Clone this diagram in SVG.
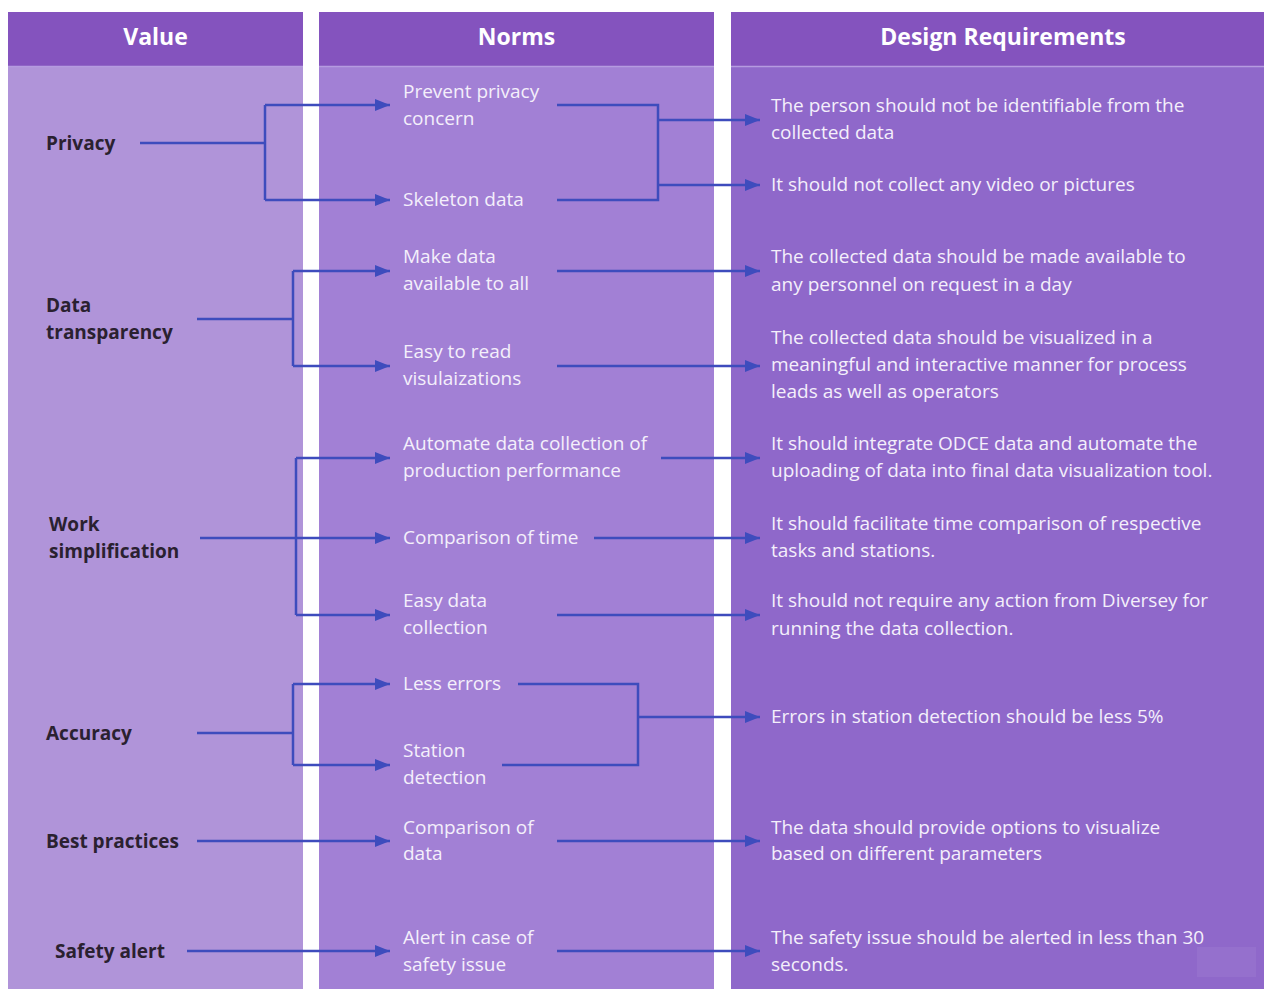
<svg xmlns="http://www.w3.org/2000/svg" width="1264" height="989" viewBox="0 0 1264 989">
  <defs>
    <marker id="arrow" markerUnits="userSpaceOnUse" markerWidth="18" markerHeight="14" refX="15" refY="6" orient="auto">
      <path d="M0,0 L15,6 L0,12 Z" fill="#3e4cbd"/>
    </marker>
    <style>
      .head { fill: #8453be; }
      .hline { stroke: #b59be0; stroke-width: 1.5; }
      .htxt { font-family: "Open Sans", "Liberation Sans", sans-serif; font-weight: 700; font-size: 23px; fill: #ffffff; text-anchor: middle; }
      .val { font-family: "Open Sans", "Liberation Sans", sans-serif; font-weight: 700; font-size: 19px; fill: #2a2130; }
      .txt { font-family: "Open Sans", "Liberation Sans", sans-serif; font-size: 19px; fill: #f4effb; }
      .conn { fill: none; stroke: #3e4cbd; stroke-width: 2.5; }
      .arr { marker-end: url(#arrow); }
    </style>
  </defs>

  <rect width="1264" height="989" fill="#ffffff"/>

  <!-- columns -->
  <g id="col-value">
    <rect x="8" y="12" width="295" height="977" fill="#b094d9"/>
    <rect class="head" x="8" y="12" width="295" height="54"/>
    <line class="hline" x1="8" y1="66.5" x2="303" y2="66.5"/>
    <text class="htxt" x="155.5" y="45">Value</text>
  </g>
  <g id="col-norms">
    <rect x="319" y="12" width="395" height="977" fill="#a280d5"/>
    <rect class="head" x="319" y="12" width="395" height="54"/>
    <line class="hline" x1="319" y1="66.5" x2="714" y2="66.5"/>
    <text class="htxt" x="516.5" y="45">Norms</text>
  </g>
  <g id="col-requirements">
    <rect x="731" y="12" width="533" height="977" fill="#8f68ca"/>
    <rect class="head" x="731" y="12" width="533" height="54"/>
    <line class="hline" x1="731" y1="66.5" x2="1264" y2="66.5"/>
    <text class="htxt" x="1003" y="45">Design Requirements</text>
  </g>

  <!-- values -->
  <g id="v-privacy"><text class="val" x="46" y="150">Privacy</text></g>
  <g id="v-transparency"><text class="val" x="46" y="312">Data</text><text class="val" x="46" y="339">transparency</text></g>
  <g id="v-work"><text class="val" x="49" y="531">Work</text><text class="val" x="49" y="558">simplification</text></g>
  <g id="v-accuracy"><text class="val" x="46" y="740">Accuracy</text></g>
  <g id="v-best"><text class="val" x="46" y="848">Best practices</text></g>
  <g id="v-safety"><text class="val" x="55" y="958">Safety alert</text></g>

  <!-- norms -->
  <g id="n-prevent"><text class="txt" x="403" y="98">Prevent privacy</text><text class="txt" x="403" y="125">concern</text></g>
  <g id="n-skeleton"><text class="txt" x="403" y="206">Skeleton data</text></g>
  <g id="n-available"><text class="txt" x="403" y="263">Make data</text><text class="txt" x="403" y="290">available to all</text></g>
  <g id="n-easyread"><text class="txt" x="403" y="358">Easy to read</text><text class="txt" x="403" y="385">visulaizations</text></g>
  <g id="n-automate"><text class="txt" x="403" y="450">Automate data collection of</text><text class="txt" x="403" y="477">production performance</text></g>
  <g id="n-time"><text class="txt" x="403" y="544">Comparison of time</text></g>
  <g id="n-easycollect"><text class="txt" x="403" y="607">Easy data</text><text class="txt" x="403" y="634">collection</text></g>
  <g id="n-errors"><text class="txt" x="403" y="690">Less errors</text></g>
  <g id="n-station"><text class="txt" x="403" y="757">Station</text><text class="txt" x="403" y="784">detection</text></g>
  <g id="n-compare"><text class="txt" x="403" y="834">Comparison of</text><text class="txt" x="403" y="860">data</text></g>
  <g id="n-alert"><text class="txt" x="403" y="944">Alert in case of</text><text class="txt" x="403" y="971">safety issue</text></g>

  <!-- design requirements -->
  <g id="r-identity"><text class="txt" x="771" y="112">The person should not be identifiable from the</text><text class="txt" x="771" y="139">collected data</text></g>
  <g id="r-video"><text class="txt" x="771" y="191">It should not collect any video or pictures</text></g>
  <g id="r-available"><text class="txt" x="771" y="263">The collected data should be made available to</text><text class="txt" x="771" y="291">any personnel on request in a day</text></g>
  <g id="r-visual"><text class="txt" x="771" y="344">The collected data should be visualized in a</text><text class="txt" x="771" y="371">meaningful and interactive manner for process</text><text class="txt" x="771" y="398">leads as well as operators</text></g>
  <g id="r-odce"><text class="txt" x="771" y="450">It should integrate ODCE data and automate the</text><text class="txt" x="771" y="477">uploading of data into final data visualization tool.</text></g>
  <g id="r-time"><text class="txt" x="771" y="530">It should facilitate time comparison of respective</text><text class="txt" x="771" y="557">tasks and stations.</text></g>
  <g id="r-action"><text class="txt" x="771" y="607">It should not require any action from Diversey for</text><text class="txt" x="771" y="635">running the data collection.</text></g>
  <g id="r-errors"><text class="txt" x="771" y="723">Errors in station detection should be less 5%</text></g>
  <g id="r-options"><text class="txt" x="771" y="834">The data should provide options to visualize</text><text class="txt" x="771" y="860">based on different parameters</text></g>
  <g id="r-safety"><text class="txt" x="771" y="944">The safety issue should be alerted in less than 30</text><text class="txt" x="771" y="971">seconds.</text></g>

  <!-- faint badge, lower right -->
  <rect x="1197" y="947" width="59" height="30" fill="#ffffff" opacity="0.06"/>

  <!-- connectors -->
  <g id="connectors">
    <!-- privacy -->
    <path class="conn" d="M140,143 H265"/>
    <path class="conn" d="M265,105 V200"/>
    <path class="conn arr" d="M265,105 H390"/>
    <path class="conn arr" d="M265,200 H390"/>
    <path class="conn" d="M557,105 H658 V200 H557"/>
    <path class="conn arr" d="M658,120 H760"/>
    <path class="conn arr" d="M658,185 H760"/>
    <!-- data transparency -->
    <path class="conn" d="M197,319 H293"/>
    <path class="conn" d="M293,271 V366"/>
    <path class="conn arr" d="M293,271 H390"/>
    <path class="conn arr" d="M293,366 H390"/>
    <path class="conn arr" d="M557,271 H760"/>
    <path class="conn arr" d="M557,366 H760"/>
    <!-- work simplification -->
    <path class="conn arr" d="M200,538 H390"/>
    <path class="conn" d="M296,458 V615"/>
    <path class="conn arr" d="M296,458 H390"/>
    <path class="conn arr" d="M296,615 H390"/>
    <path class="conn arr" d="M661,458 H760"/>
    <path class="conn arr" d="M594,538 H760"/>
    <path class="conn arr" d="M557,615 H760"/>
    <!-- accuracy -->
    <path class="conn" d="M197,733 H293"/>
    <path class="conn" d="M293,684 V765"/>
    <path class="conn arr" d="M293,684 H390"/>
    <path class="conn arr" d="M293,765 H390"/>
    <path class="conn" d="M518,684 H638 V765 H502"/>
    <path class="conn arr" d="M638,717 H760"/>
    <!-- best practices -->
    <path class="conn arr" d="M197,841 H390"/>
    <path class="conn arr" d="M557,841 H760"/>
    <!-- safety alert -->
    <path class="conn arr" d="M187,951 H390"/>
    <path class="conn arr" d="M557,951 H760"/>
  </g>
</svg>
